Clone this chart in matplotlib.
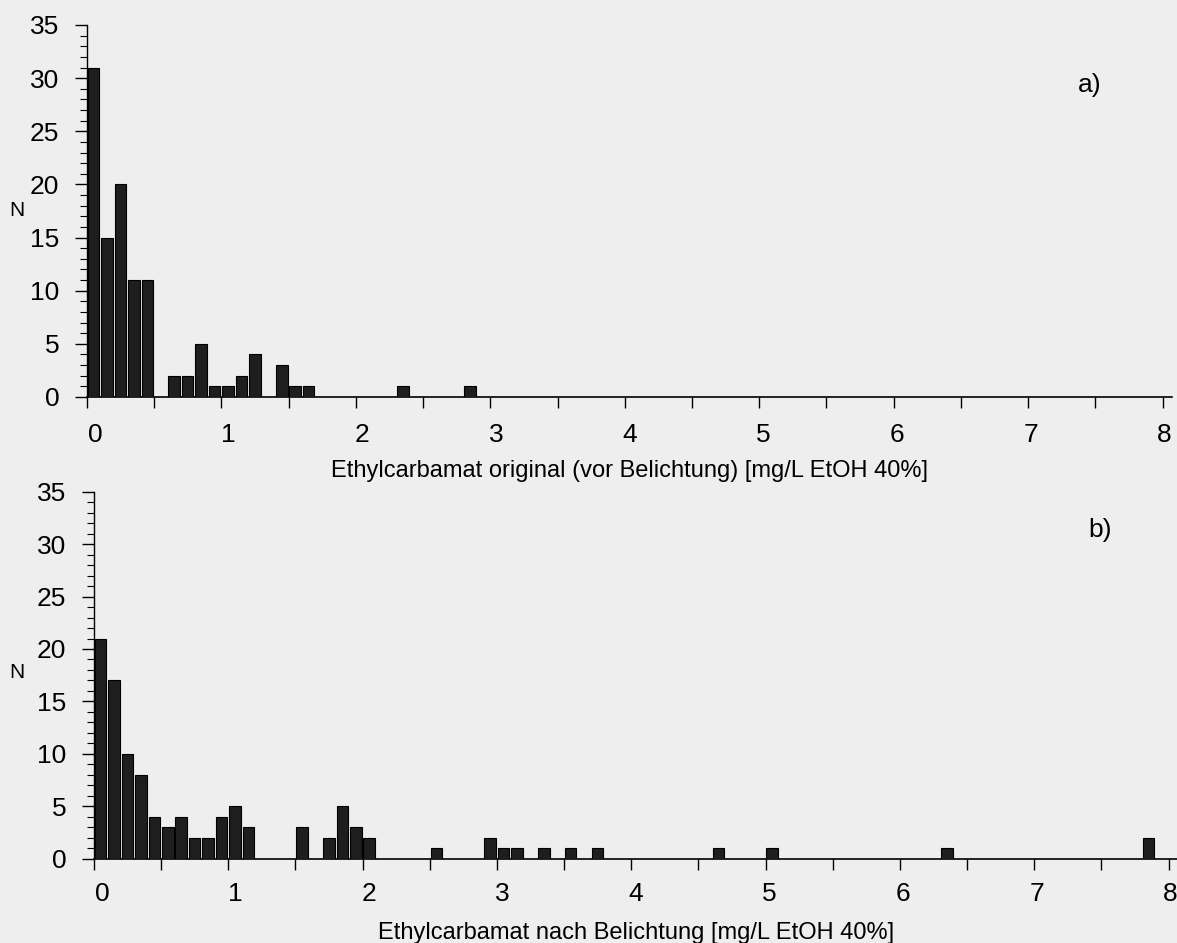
import numpy as np
import matplotlib
matplotlib.use("Agg")
import matplotlib.pyplot as plt
from matplotlib.ticker import MultipleLocator
import matplotlib.transforms as mtransforms

plt.rcParams['font.family'] = ['Liberation Sans', 'DejaVu Sans']

# bin left edges (bin width 0.1 mg/L) and counts, only non-empty bins
edges_a = [0.0, 0.1, 0.2, 0.3, 0.4, 0.6, 0.7, 0.8, 0.9, 1.0, 1.1, 1.2,
           1.4, 1.5, 1.6, 2.3, 2.8]
counts_a = [31, 15, 20, 11, 11, 2, 2, 5, 1, 1, 2, 4,
            3, 1, 1, 1, 1]

edges_b = [0.0, 0.1, 0.2, 0.3, 0.4, 0.5, 0.6, 0.7, 0.8, 0.9, 1.0, 1.1,
           1.5, 1.7, 1.8, 1.9, 2.0, 2.5, 2.9, 3.0, 3.1, 3.3, 3.5, 3.7,
           4.6, 5.0, 6.3, 7.8]
counts_b = [21, 17, 10, 8, 4, 3, 4, 2, 2, 4, 5, 3,
            3, 2, 5, 3, 2, 1, 2, 1, 1, 1, 1, 1,
            1, 1, 1, 2]

xlabel_a = "Ethylcarbamat original (vor Belichtung) [mg/L EtOH 40%]"
xlabel_b = "Ethylcarbamat nach Belichtung [mg/L EtOH 40%]"
xticks = [0, 1, 2, 3, 4, 5, 6, 7, 8]
yticks = [0, 5, 10, 15, 20, 25, 30, 35]

bg = '#eeeeee'
fig = plt.figure(figsize=(11.77, 9.43), dpi=100, facecolor=bg)

W, H = 1177.0, 943.0
ax_a = fig.add_axes([87 / W, 1 - 397 / H, 1085 / W, (397 - 25) / H])
ax_b = fig.add_axes([94 / W, 1 - 858.7 / H, 1084 / W, (858.7 - 491.7) / H])


def style(ax, edges, counts, label, tag, xpad, tag_xy):
    ax.set_facecolor(bg)
    ax.bar(np.array(edges) + 0.006, counts, width=0.086, align='edge',
           color='#1e1e1e', edgecolor='black', linewidth=0.8, zorder=3)
    ax.set_xlim(0, 8.07)
    ax.set_ylim(0, 35)
    for s in ['top', 'right']:
        ax.spines[s].set_visible(False)
    ax.spines['left'].set_linewidth(1.0)
    ax.spines['bottom'].set_linewidth(1.2)
    ax.spines['left'].set_bounds(0, 35)
    ax.set_xticks(xticks)
    ax.set_yticks(yticks)
    ax.xaxis.set_minor_locator(MultipleLocator(0.5))
    ax.yaxis.set_minor_locator(MultipleLocator(1))
    ax.tick_params(axis='x', which='both', direction='out', length=8,
                   width=1.0, pad=xpad, labelsize=19)
    ax.tick_params(axis='y', which='major', direction='out', length=9,
                   width=1.0, pad=11, labelsize=19)
    ax.tick_params(axis='y', which='minor', direction='out', length=5,
                   width=0.8)
    # scanned original: labels sit a little right of their ticks
    for i, t in enumerate(ax.get_xticklabels()):
        off = mtransforms.ScaledTranslation((8 - 0.8 * i) / 100, 0,
                                            fig.dpi_scale_trans)
        t.set_transform(t.get_transform() + off)
    ax.set_xlabel(label, fontsize=17)
    ax.set_ylabel('N', fontsize=15, rotation=0, va='center', ha='center')
    ax.text(tag_xy[0], tag_xy[1], tag, transform=fig.transFigure,
            fontsize=19, ha='center', va='center')


style(ax_a, edges_a, counts_a, xlabel_a, 'a)', 11, (1090 / W, 1 - 85 / H))
style(ax_b, edges_b, counts_b, xlabel_b, 'b)', 9, (1100 / W, 1 - 530 / H))
ax_a.xaxis.set_label_coords(0.5, -0.17)
ax_b.xaxis.set_label_coords(0.5, -0.172)
ax_a.yaxis.set_label_coords(-70 / 1085, (397 - 210) / 372)
ax_b.yaxis.set_label_coords(-77 / 1084, (858.7 - 673) / 367)

fig.savefig('out.png', dpi=100, facecolor=bg)
